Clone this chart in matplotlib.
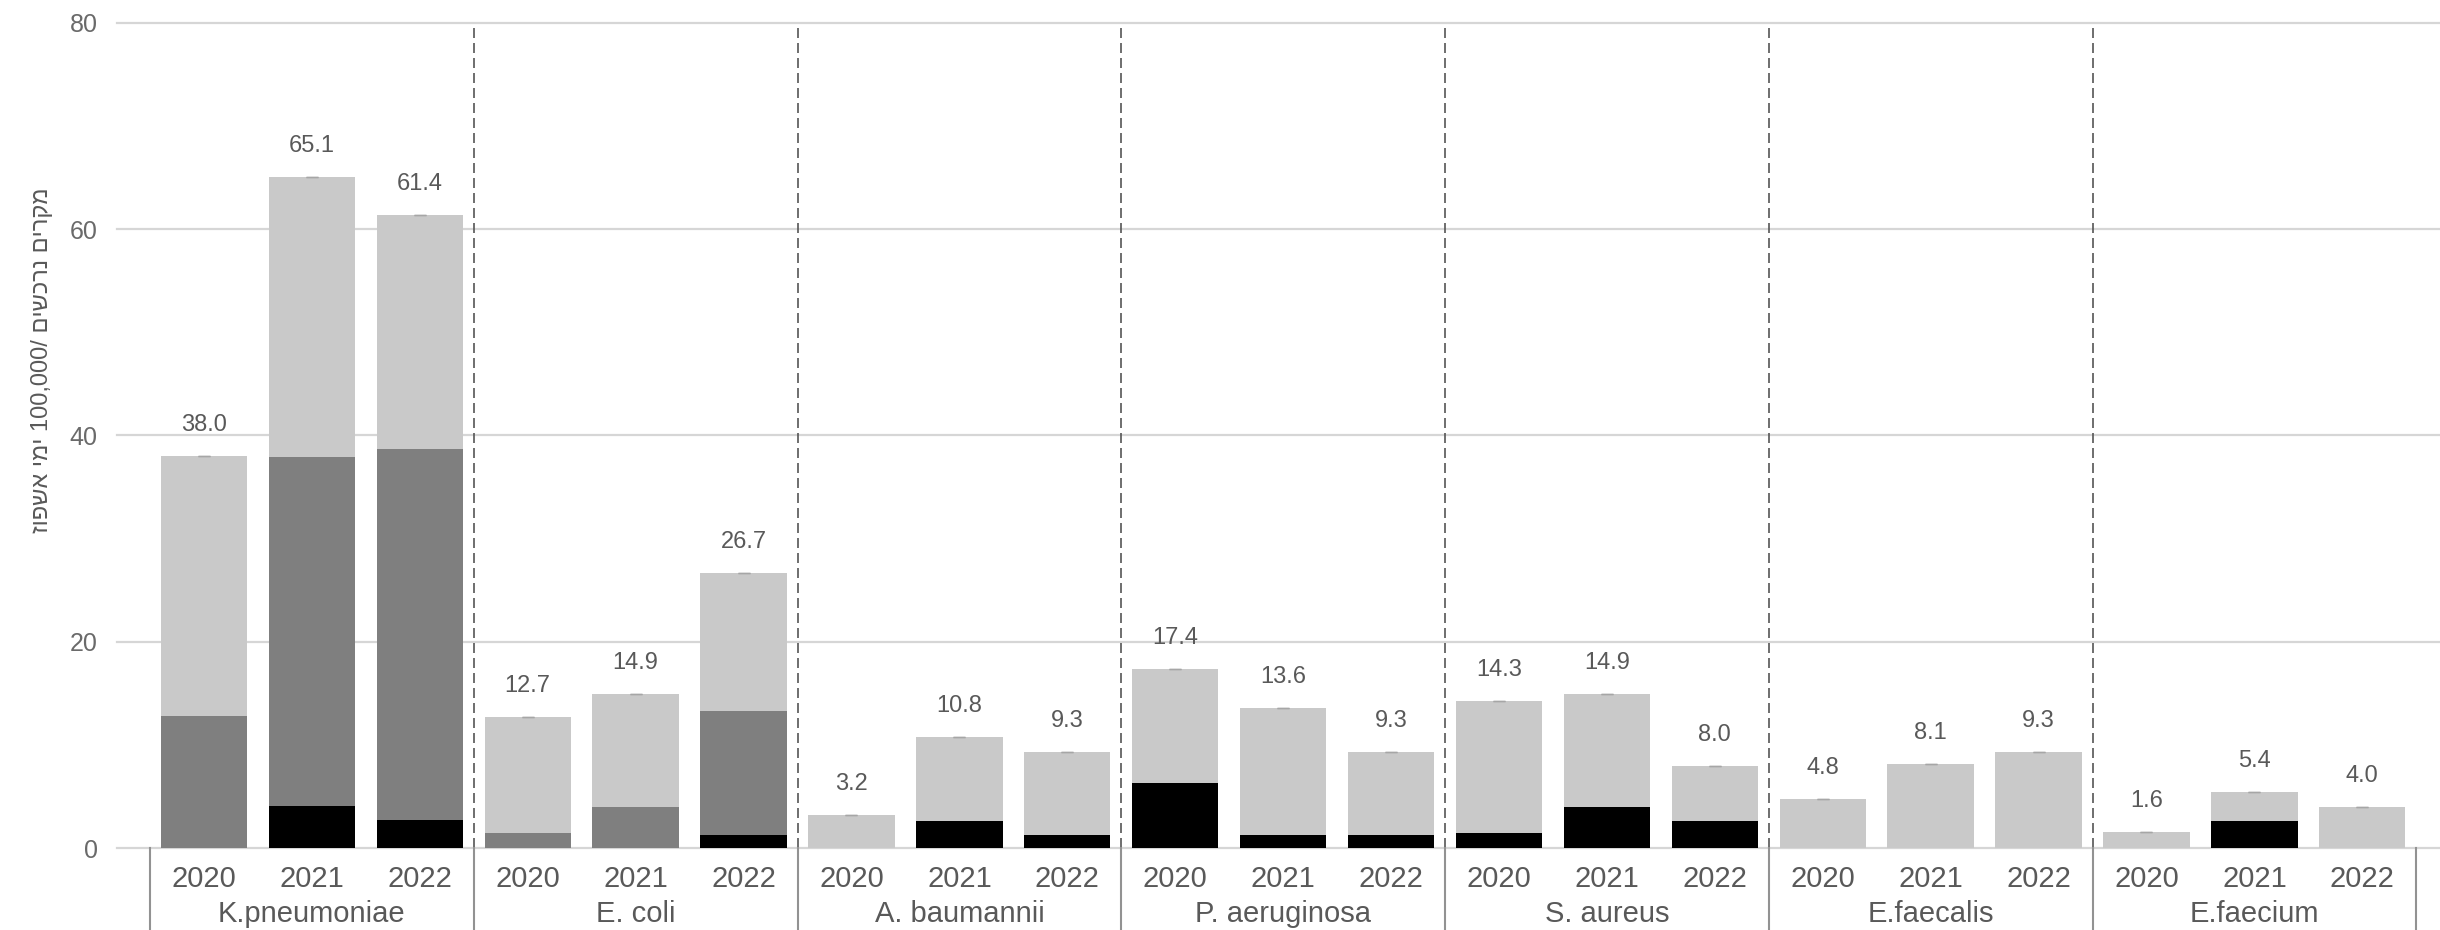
import numpy as np
import matplotlib
matplotlib.use("Agg")
import matplotlib.pyplot as plt
from matplotlib.transforms import blended_transform_factory

groups = ["K.pneumoniae", "E. coli", "A. baumannii", "P. aeruginosa",
          "S. aureus", "E.faecalis", "E.faecium"]

years = ["2020", "2021", "2022"]

# totals shown above each bar (group by group, 2020-2022)
totals = [38.0, 65.1, 61.4,
          12.7, 14.9, 26.7,
          3.2, 10.8, 9.3,
          17.4, 13.6, 9.3,
          14.3, 14.9, 8.0,
          4.8, 8.1, 9.3,
          1.6, 5.4, 4.0]

# black segment at the bottom
black = [0.0, 4.1, 2.7,
         0.0, 0.0, 1.3,
         0.0, 2.6, 1.3,
         6.3, 1.3, 1.3,
         1.5, 4.0, 2.6,
         0.0, 0.0, 0.0,
         0.0, 2.6, 0.0]

# dark gray segment (middle)
dark = [12.8, 33.8, 36.0,
        1.5, 4.0, 12.0,
        0.0, 0.0, 0.0,
        0.0, 0.0, 0.0,
        0.0, 0.0, 0.0,
        0.0, 0.0, 0.0,
        0.0, 0.0, 0.0]

ylabel_text = "מקרים נרכשים /100,000 ימי אשפוז"


def visual_rtl(text):
    # matplotlib has no bidi support, so lay the hebrew out in visual order
    out = []
    for word in reversed(text.split(" ")):
        if any("\u0590" <= ch <= "\u05ff" for ch in word):
            out.append(word[::-1])
        elif word.startswith("/"):
            out.append(word[1:] + "/")
        else:
            out.append(word)
    return " ".join(out)


def main():

    plt.rcParams["font.family"] = ["Liberation Sans", "DejaVu Sans"]

    text_color = "#595959"

    totals_arr = np.array(totals)
    black_arr = np.array(black)
    dark_arr = np.array(dark)
    light_arr = totals_arr - black_arr - dark_arr

    n = len(totals)
    x = np.arange(n)

    fig = plt.figure(figsize=(24.4, 9.3), dpi=100)
    ax = fig.add_axes([117 / 2440, 82 / 930, (2440 - 117) / 2440, 825 / 930])

    ax.bar(x, black_arr, width=0.8, color="#000000", zorder=2)
    ax.bar(x, dark_arr, width=0.8, bottom=black_arr, color="#7f7f7f", zorder=2)
    ax.bar(x, light_arr, width=0.8, bottom=black_arr + dark_arr,
           color="#c9c9c9", zorder=2)

    # tiny caps on the top of each bar
    ax.errorbar(x, totals_arr, yerr=np.zeros(n), fmt="none",
                ecolor="#a6a6a6", capsize=4, elinewidth=1, zorder=3)

    for xi, t in zip(x, totals_arr):
        ax.annotate(f"{t:.1f}", (xi, t), xytext=(0, 18),
                    textcoords="offset points", ha="center", va="baseline",
                    fontsize=17, color=text_color)

    ax.set_xlim(-0.806, 20.72)
    ax.set_ylim(0, 80)

    ax.set_yticks([0, 20, 40, 60, 80])
    ax.tick_params(axis="y", length=0, pad=14, labelsize=18,
                   labelcolor="#6a6a6a")
    ax.set_xticks([])

    ax.yaxis.grid(True, color="#d6d6d6", linewidth=1.6)
    for line in ax.get_ygridlines():
        line.set_clip_on(False)
    ax.set_axisbelow(True)

    for side in ["top", "right", "left", "bottom"]:
        ax.spines[side].set_visible(False)

    # dashed separators between species
    seps = np.arange(2.5, n - 1, 3)
    ax.vlines(seps, 0, 80, colors="#555555", linestyles=(0, (6, 3)),
              linewidth=1.2, zorder=1)

    # two-level category axis
    trans = blended_transform_factory(ax.transData, ax.transAxes)

    bounds = np.arange(-0.5, n, 3)
    for b in bounds:
        ax.plot([b, b], [0, -0.12], transform=trans, color="#929292",
                linewidth=1.5, clip_on=False)

    for xi in x:
        ax.text(xi, -0.0473, years[xi % 3], transform=trans, ha="center",
                va="baseline", fontsize=21, color=text_color)

    for gi, name in enumerate(groups):
        ax.text(gi * 3 + 1, -0.0897, name, transform=trans, ha="center",
                va="baseline", fontsize=21, color=text_color)

    fig.text(42 / 2440, 1 - 360 / 930, visual_rtl(ylabel_text), rotation=90,
             ha="center", va="center", fontsize=17, color=text_color)

    fig.savefig("out.png", dpi=100)


if __name__ == "__main__":

    main()
